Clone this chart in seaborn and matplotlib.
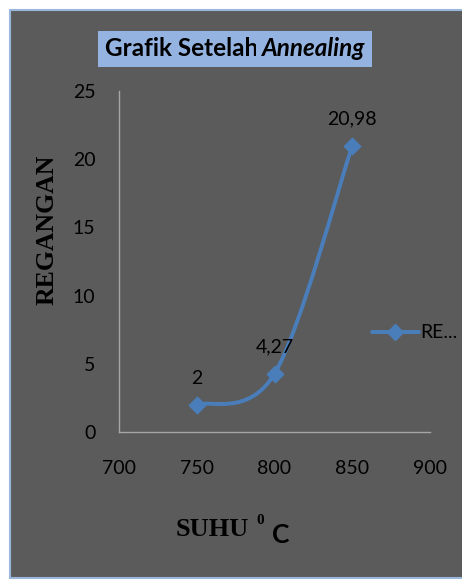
import numpy as np
import pandas as pd
import seaborn as sns
import matplotlib.pyplot as plt
from matplotlib.path import Path
from matplotlib.patches import PathPatch, Rectangle
from matplotlib.lines import Line2D

# data
suhu = [750, 800, 850]
regangan = [2, 4.27, 20.98]
label_titik = ["2", "4,27", "20,98"]

df = pd.DataFrame({"suhu": suhu, "regangan": regangan})

sns.set_style("white")
plt.rcParams["font.family"] = ["Lato", "DejaVu Sans"]
plt.rcParams["text.color"] = "black"

biru = "#4a7ebb"
abu = "#5b5b5b"

fig = plt.figure(figsize=(4.62, 5.8), dpi=100)
fig.patch.set_facecolor("white")
# bingkai abu-abu
fig.patches.append(Rectangle((10 / 462, 2 / 580), 1.0, 568 / 580, transform=fig.transFigure,
                             facecolor=abu, edgecolor="#9bb7dc", linewidth=1.5, zorder=-1))

ax = fig.add_axes([119 / 462, 1 - 432 / 580, 311 / 462, 341 / 580])
ax.set_facecolor("none")

# kurva halus ala excel (catmull-rom -> bezier)
pts = np.column_stack([suhu, regangan])
n = len(pts)
verts = [tuple(pts[0])]
codes = [Path.MOVETO]
for i in range(n - 1):
    p0 = pts[max(i - 1, 0)]
    p1 = pts[i]
    p2 = pts[i + 1]
    p3 = pts[min(i + 2, n - 1)]
    c1 = p1 + (p2 - p0) / 6
    c2 = p2 - (p3 - p1) / 6
    verts += [tuple(c1), tuple(c2), tuple(p2)]
    codes += [Path.CURVE4] * 3
ax.add_patch(PathPatch(Path(verts, codes), facecolor="none", edgecolor=biru, lw=2.8,
                       capstyle="round", zorder=2))

sns.scatterplot(data=df, x="suhu", y="regangan", marker="D", s=75, color=biru,
                edgecolor=biru, ax=ax, zorder=3, legend=False)

for x, y, t in zip(suhu, regangan, label_titik):
    ax.annotate(t, (x, y), xytext=(0, 13), textcoords="offset points", ha="center",
                va="bottom", fontsize=14, color="black")

ax.set_xlim(700, 900)
ax.set_ylim(0, 25)
ax.set_xticks([700, 750, 800, 850, 900])
ax.set_yticks([0, 5, 10, 15, 20, 25])
ax.tick_params(axis="both", labelsize=14, colors="black", length=0)
ax.tick_params(axis="x", pad=20)
ax.tick_params(axis="y", pad=17)
for s in ["top", "right"]:
    ax.spines[s].set_visible(False)
for s in ["left", "bottom"]:
    ax.spines[s].set_color("#a6a6a6")
    ax.spines[s].set_linewidth(1)
ax.set_xlabel("")
ax.set_ylabel("")

# judul
fig.text(0.558, 1 - 49 / 580, "Grafik Setelah", ha="right", va="center", fontsize=17.5,
         fontweight="bold", bbox=dict(facecolor="#95b3e0", edgecolor="none", pad=4.5))
fig.text(0.568, 1 - 49 / 580, "Annealing", ha="left", va="center", fontsize=17.5,
         fontweight="bold", style="italic",
         bbox=dict(facecolor="#95b3e0", edgecolor="none", pad=4.5))

# label sumbu
fig.text(47 / 462, 1 - 230 / 580, "REGANGAN", rotation=90, ha="center", va="center",
         fontsize=18.5, fontweight="bold", family="Liberation Serif")
fig.text(249 / 462, 1 - 530 / 580, "SUHU", ha="right", va="center", fontsize=19,
         fontweight="bold", family="Liberation Serif")
fig.text(256 / 462, 1 - 521 / 580, "0", ha="left", va="center", fontsize=11,
         fontweight="bold", family="Liberation Serif")
fig.text(272 / 462, 1 - 535 / 580, "C", ha="left", va="center", fontsize=19, fontweight="bold")

# legenda
h = Line2D([0], [0], color=biru, lw=2.8, marker="D", markersize=8)
fig.legend([h], ["RE..."], loc="center left", bbox_to_anchor=(372 / 462, 1 - 333 / 580),
           frameon=False, fontsize=14, handlelength=2.4, handletextpad=0.1,
           borderaxespad=0, borderpad=0)

fig.savefig("out.png", dpi=100, facecolor=fig.get_facecolor())
